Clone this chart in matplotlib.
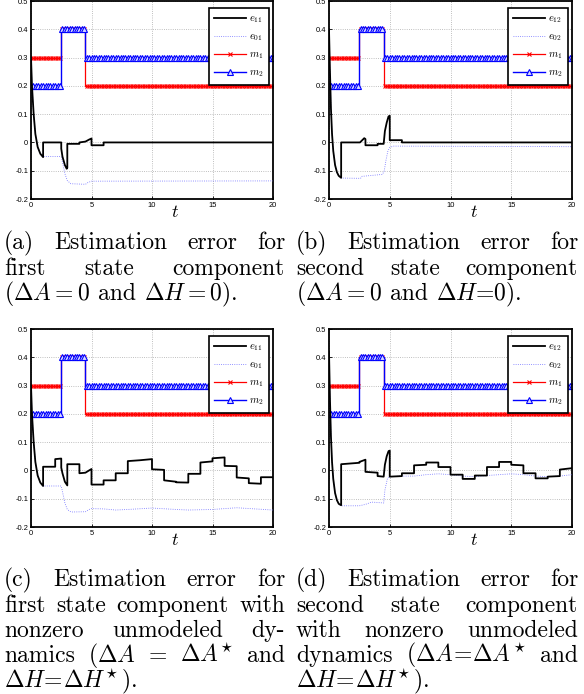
import numpy as np
import matplotlib
matplotlib.use('Agg')
import matplotlib.pyplot as plt

plt.rcParams['mathtext.fontset'] = 'cm'
plt.rcParams['axes.unicode_minus'] = False
plt.rcParams['font.family'] = ['Liberation Sans', 'DejaVu Sans']

W, H = 584, 694

# switching signals m1, m2 (same in all four runs)
switch_t = [0.0, 2.5, 4.5]
m1_vals = [0.3, 0.4, 0.2]
m2_vals = [0.2, 0.4, 0.3]

# (a) first state component, no unmodeled dynamics
a_e_t = [0, 0.08, 0.22, 0.36, 0.55, 0.77, 1.0, 1.0, 2.5, 2.5, 2.6, 2.8, 2.95, 3.0, 3.0, 4.0, 4.0, 4.5, 4.8, 5.0, 5.0, 6.0, 6.0, 20]
a_e_v = [0.3, 0.2, 0.1, 0.03, -0.016, -0.04, -0.052, 0.0, 0.0, -0.022, -0.05, -0.08, -0.093, -0.09, -0.005, -0.005, 0.0, 0.003, 0.01, 0.014, -0.01, -0.01, 0.0, 0.0]
a_e0_t = [0, 0.08, 0.22, 0.36, 0.55, 0.77, 1.0, 2.5, 2.6, 2.8, 3.0, 3.3, 4.5, 4.7, 5.0, 20]
a_e0_v = [0.3, 0.2, 0.1, 0.03, -0.016, -0.04, -0.05, -0.05, -0.07, -0.11, -0.135, -0.146, -0.148, -0.142, -0.137, -0.136]

# (b) second state component, no unmodeled dynamics
b_e_t = [0, 0.08, 0.16, 0.25, 0.35, 0.5, 0.65, 0.8, 1.0, 1.0, 2.55, 2.9, 3.0, 3.0, 4.0, 4.0, 4.5, 4.6, 4.75, 4.9, 5.0, 5.0, 6.0, 6.0, 20]
b_e_v = [0.4, 0.25, 0.12, 0.03, -0.03, -0.08, -0.105, -0.118, -0.125, 0.0, 0.0, 0.015, 0.012, -0.01, -0.01, -0.005, -0.005, 0.04, 0.07, 0.092, 0.094, 0.008, 0.008, 0.0, 0.0]
b_e0_t = [0, 0.08, 0.16, 0.25, 0.35, 0.5, 0.65, 0.8, 1.0, 2.6, 2.7, 4.4, 4.55, 4.7, 4.85, 5.0, 5.3, 20]
b_e0_v = [0.4, 0.25, 0.12, 0.03, -0.03, -0.08, -0.105, -0.118, -0.126, -0.127, -0.12, -0.113, -0.1, -0.06, -0.03, -0.018, -0.013, -0.015]

# (c) first state component, nonzero unmodeled dynamics
c_e_t = [0, 0.08, 0.22, 0.36, 0.55, 0.77, 1.0, 1.0, 2.0, 2.0, 2.5, 2.5, 2.6, 2.8, 3.0, 3.0, 4.0, 4.0, 4.5, 4.8, 5.0, 5.0,
         6.0, 6.0, 7.0, 7.0, 8.0, 8.0, 9.0, 10.0, 10.0, 11.0, 11.0, 12.0, 12.0, 13.0, 13.0, 14.0, 14.0, 15.0, 15.0,
         16.0, 16.0, 17.0, 17.0, 18.0, 18.0, 19.0, 19.0, 20.0]
c_e_v = [0.3, 0.2, 0.1, 0.03, -0.018, -0.043, -0.055, 0.013, 0.013, 0.04, 0.042, 0.01, -0.01, -0.04, -0.053, 0.022,
         0.022, -0.01, -0.008, 0.0, 0.005, -0.05, -0.05, -0.035, -0.035, -0.01, -0.01, 0.033, 0.036, 0.04, 0.004,
         0.002, -0.035, -0.04, -0.042, -0.043, -0.012, -0.012, 0.028, 0.032, 0.043, 0.046, 0.016, 0.015, -0.025,
         -0.028, -0.045, -0.047, -0.024, -0.024]
c_e0_t = [0, 0.08, 0.22, 0.36, 0.55, 0.77, 1.0, 2.5, 2.6, 2.8, 3.0, 3.3, 4.5, 4.8, 5.0, 6, 7, 8, 10, 12, 13, 15, 17, 18.5, 20]
c_e0_v = [0.3, 0.2, 0.1, 0.03, -0.018, -0.043, -0.055, -0.055, -0.075, -0.115, -0.138, -0.147, -0.146, -0.138,
          -0.135, -0.136, -0.14, -0.138, -0.133, -0.138, -0.14, -0.138, -0.132, -0.136, -0.14]

# (d) second state component, nonzero unmodeled dynamics
d_e_t = [0, 0.08, 0.16, 0.25, 0.35, 0.5, 0.65, 0.8, 1.0, 1.0, 2.5, 2.5, 3.0, 3.0, 4.0, 4.0, 4.5, 4.6, 4.75, 4.9, 5.0, 5.0,
         6.0, 6.0, 7.0, 7.0, 8.0, 8.0, 9.0, 9.0, 10.0, 10.0, 11.0, 11.0, 12.0, 12.0, 13.0, 13.0, 14.0, 14.0, 15.0,
         15.0, 16.0, 16.0, 17.0, 17.0, 18.0, 18.0, 19.0, 19.0, 20.0]
d_e_v = [0.42, 0.25, 0.12, 0.03, -0.03, -0.08, -0.105, -0.118, -0.123, 0.022, 0.027, 0.03, 0.038, -0.005, -0.008,
         -0.02, -0.022, 0.02, 0.05, 0.068, 0.07, -0.022, -0.02, -0.01, -0.01, 0.018, 0.02, 0.028, 0.028, 0.012,
         0.012, -0.015, -0.015, -0.03, -0.03, -0.018, -0.018, 0.012, 0.012, 0.03, 0.03, 0.02, 0.018, -0.01, -0.01,
         -0.028, -0.028, -0.022, -0.02, 0.003, 0.008]
d_e0_t = [0, 0.08, 0.16, 0.25, 0.35, 0.5, 0.65, 0.8, 1.0, 2.5, 3.0, 3.5, 4.5, 4.6, 4.8, 5.0, 6, 7, 8, 9, 10, 11, 12,
          13, 14, 15, 16, 17, 18, 19, 20]
d_e0_v = [0.42, 0.25, 0.12, 0.03, -0.03, -0.08, -0.105, -0.118, -0.125, -0.125, -0.12, -0.112, -0.115, -0.07, -0.03,
          -0.022, -0.02, -0.02, -0.015, -0.012, -0.015, -0.02, -0.022, -0.018, -0.015, -0.012, -0.015, -0.02,
          -0.022, -0.02, -0.015]

panels = [
    ('a', (31, 1, 273, 199), a_e_t, a_e_v, a_e0_t, a_e0_v, '$e_{11}$', '$e_{01}$'),
    ('b', (329, 1, 572, 199), b_e_t, b_e_v, b_e0_t, b_e0_v, '$e_{12}$', '$e_{02}$'),
    ('c', (31, 329, 273, 527), c_e_t, c_e_v, c_e0_t, c_e0_v, '$e_{11}$', '$e_{01}$'),
    ('d', (329, 329, 572, 527), d_e_t, d_e_v, d_e0_t, d_e0_v, '$e_{12}$', '$e_{02}$'),
]

captions = {
    'a': [(['(a)', 'Estimation', 'error', 'for'], True),
          (['first', 'state', 'component'], True),
          ([r'($\Delta A = 0$', 'and', r'$\Delta H = 0$).'], False)],
    'b': [(['(b)', 'Estimation', 'error', 'for'], True),
          (['second', 'state', 'component'], True),
          ([r'($\Delta A = 0$', 'and', r'$\Delta H$=0).'], False)],
    'c': [(['(c)', 'Estimation', 'error', 'for'], True),
          (['first', 'state', 'component', 'with'], True),
          (['nonzero', 'unmodeled', 'dy-'], True),
          (['namics', r'($\Delta A$', '=', r'$\Delta A^{\!\star}$', 'and'], True),
          ([r'$\Delta H\!=\!\Delta H^{\!\star}$).'], False)],
    'd': [(['(d)', 'Estimation', 'error', 'for'], True),
          (['second', 'state', 'component'], True),
          (['with', 'nonzero', 'unmodeled'], True),
          (['dynamics', r'($\Delta A\!=\!\Delta A^{\!\star}$', 'and'], True),
          ([r'$\Delta H\!=\!\Delta H^{\!\star}$).'], False)],
}
cap_cols = {'a': (4, 285), 'b': (296, 578), 'c': (4, 285), 'd': (296, 578)}
cap_base = {'a': [249, 275, 300], 'b': [249, 275, 300],
            'c': [586, 612, 637, 662, 687], 'd': [586, 612, 637, 662, 687]}
cap_size = 17

fig = plt.figure(figsize=(W / 100, H / 100), dpi=100)

t_grid = np.arange(0, 20.001, 0.1)
idx = np.searchsorted(switch_t, t_grid, side='right') - 1
m1 = np.array(m1_vals)[idx]
m2 = np.array(m2_vals)[idx]

for key, (x0, y0, x1, y1), et, ev, e0t, e0v, lab, lab0 in panels:
    ax = fig.add_axes([x0 / W, 1 - y1 / H, (x1 - x0) / W, (y1 - y0) / H])
    ax.plot(et, ev, color='k', lw=1.3, label=lab, zorder=4)
    ax.plot(e0t, e0v, color='#6f6fff', lw=0.6, ls=':', label=lab0, zorder=3)
    ax.plot(t_grid, m1, color='r', lw=0.9, marker='x', ms=3.0, mew=0.8,
            markevery=2, drawstyle='steps-post', label='$m_1$', zorder=2)
    ax.plot(t_grid, m2, color='b', lw=1.0, marker='^', ms=3.8, mew=0.8, mfc='#d8d8ff',
            markevery=2, drawstyle='steps-post', label='$m_2$', zorder=2)
    ax.set_xlim(0, 20)
    ax.set_ylim(-0.2, 0.5)
    ax.set_xticks([0, 5, 10, 15, 20])
    ax.set_yticks([-0.2, -0.1, 0, 0.1, 0.2, 0.3, 0.4, 0.5])
    ax.set_yticklabels(['-0.2', '-0.1', '0', '0.1', '0.2', '0.3', '0.4', '0.5'])
    ax.tick_params(direction='in', length=2, width=0.6, labelsize=5.4, pad=2)
    ax.grid(True, ls=':', color='#aaaaaa', lw=0.6)
    for sp in ax.spines.values():
        sp.set_linewidth(1.3)
    ax.text(0.595, -0.066, '$t$', transform=ax.transAxes, fontsize=13,
            ha='center', va='center')
    leg = ax.legend(loc='upper right', bbox_to_anchor=(0.983, 0.965), fontsize=7.5,
                    handlelength=3.0, labelspacing=0.6, borderpad=0.55,
                    handletextpad=0.3, fancybox=False, edgecolor='k',
                    framealpha=1, borderaxespad=0)
    leg.get_frame().set_linewidth(1.2)

renderer = fig.canvas.get_renderer()
space = 0.333 * cap_size * 100 / 72
for key, lines in captions.items():
    cx0, cx1 = cap_cols[key]
    for (tokens, just), base in zip(lines, cap_base[key]):
        txts = [fig.text(0, 1 - base / H, tok, fontsize=cap_size, family='cmr10',
                         va='baseline', ha='left') for tok in tokens]
        widths = [t.get_window_extent(renderer).width for t in txts]
        if just and len(txts) > 1:
            gap = (cx1 - cx0 - sum(widths)) / (len(txts) - 1)
        else:
            gap = space
        x = cx0
        for t, w in zip(txts, widths):
            t.set_x(x / W)
            x += w + gap

fig.savefig('out.png', dpi=100)
